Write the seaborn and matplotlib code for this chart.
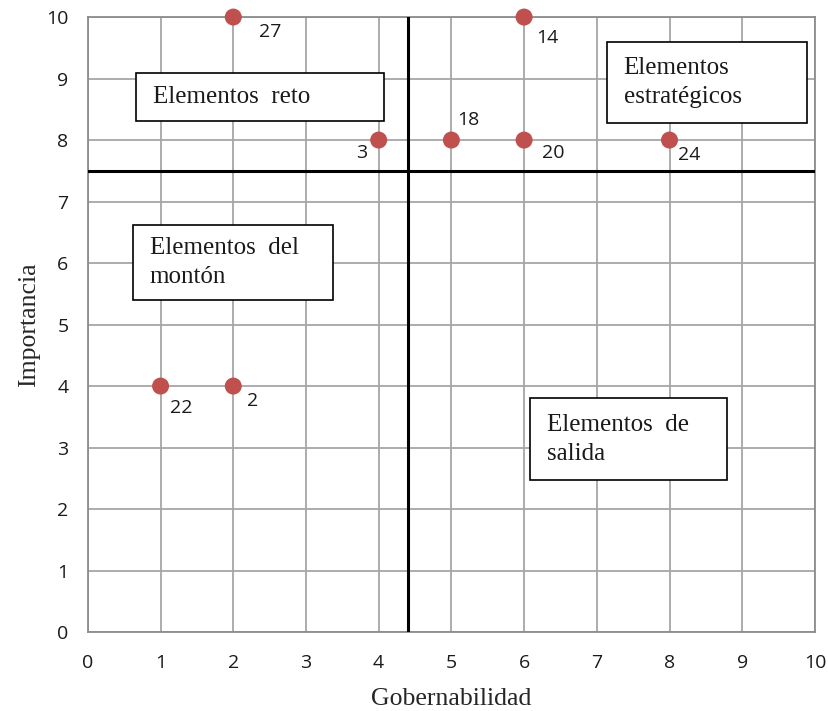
import matplotlib
matplotlib.use('Agg')
import matplotlib.pyplot as plt
import matplotlib.patches as patches
from matplotlib.ticker import MultipleLocator
import pandas as pd
import seaborn as sns

# values
gobernabilidad = [2, 6, 4, 5, 6, 8, 1, 2]
importancia = [10, 10, 8, 8, 8, 8, 4, 4]
etiquetas = ['27', '14', '3', '18', '20', '24', '22', '2']
# label offsets in pixels (dx, dy)
offsets = [(37, -15), (23, -21), (-17, -13), (17, 20), (29, -13), (20, -15), (21, -22), (19, -15)]

corte_x = 4.4
corte_y = 7.5

cuadrantes = ['Elementos  reto', 'Elementos\nestratégicos', 'Elementos  del\nmontón', 'Elementos  de\nsalida']
cajas = [(0.66, 8.31, 3.41, 0.78), (7.14, 8.28, 2.75, 1.31), (0.62, 5.40, 2.75, 1.22), (6.08, 2.47, 2.71, 1.33)]

df = pd.DataFrame({'Gobernabilidad': gobernabilidad, 'Importancia': importancia, 'id': etiquetas})

sns.set_style('white')
fig = plt.figure(figsize=(8.29, 7.11), dpi=100)
ax = fig.add_axes([0.106, 0.111, 0.877, 0.865])

num_font = 'Open Sans'
serif_font = 'Liberation Serif'

ax.set_xlim(0, 10)
ax.set_ylim(0, 10)
ax.xaxis.set_major_locator(MultipleLocator(1))
ax.yaxis.set_major_locator(MultipleLocator(1))
ax.xaxis.set_minor_locator(MultipleLocator(0.2))
ax.yaxis.set_minor_locator(MultipleLocator(0.2))
ax.grid(True, which='major', color='#a6a6a6', linewidth=1.3)
ax.tick_params(which='major', direction='in', length=7, width=1.3, color='#8c8c8c',
               labelsize=14, labelcolor='#1a1a1a')
ax.tick_params(which='minor', direction='in', length=4, width=1.0, color='#8c8c8c')
ax.tick_params(axis='x', which='major', pad=16)
ax.tick_params(axis='y', which='major', pad=14)
for lab in ax.get_xticklabels() + ax.get_yticklabels():
    lab.set_fontfamily(num_font)
for sp in ax.spines.values():
    sp.set_color('#8c8c8c')
    sp.set_linewidth(1.3)

ax.axvline(corte_x, color='black', linewidth=2.2, zorder=3)
ax.axhline(corte_y, color='black', linewidth=2.2, zorder=3)

sns.scatterplot(data=df, x='Gobernabilidad', y='Importancia', ax=ax, s=150,
                color='#c0504d', edgecolor='none', zorder=5, clip_on=False)

for x, y, t, (dx, dy) in zip(gobernabilidad, importancia, etiquetas, offsets):
    ax.annotate(t, (x, y), xytext=(dx, dy), textcoords='offset pixels',
                ha='center', va='center', fontsize=14, fontfamily=num_font,
                color='#1a1a1a', zorder=6)

for txt, (x0, y0, w, h) in zip(cuadrantes, cajas):
    ax.add_patch(patches.Rectangle((x0, y0), w, h, facecolor='white', edgecolor='black',
                                   linewidth=1.2, zorder=4))
    ax.text(x0 + 0.23, y0 + h / 2, txt, ha='left', va='center', fontsize=18,
            fontfamily=serif_font, linespacing=1.4, color='#1a1a1a', zorder=6)

ax.set_xlabel('Gobernabilidad', fontsize=18.5, fontfamily=serif_font, labelpad=11)
ax.set_ylabel('Importancia', fontsize=18.5, fontfamily=serif_font, labelpad=4)

fig.savefig('out.png', dpi=100)
